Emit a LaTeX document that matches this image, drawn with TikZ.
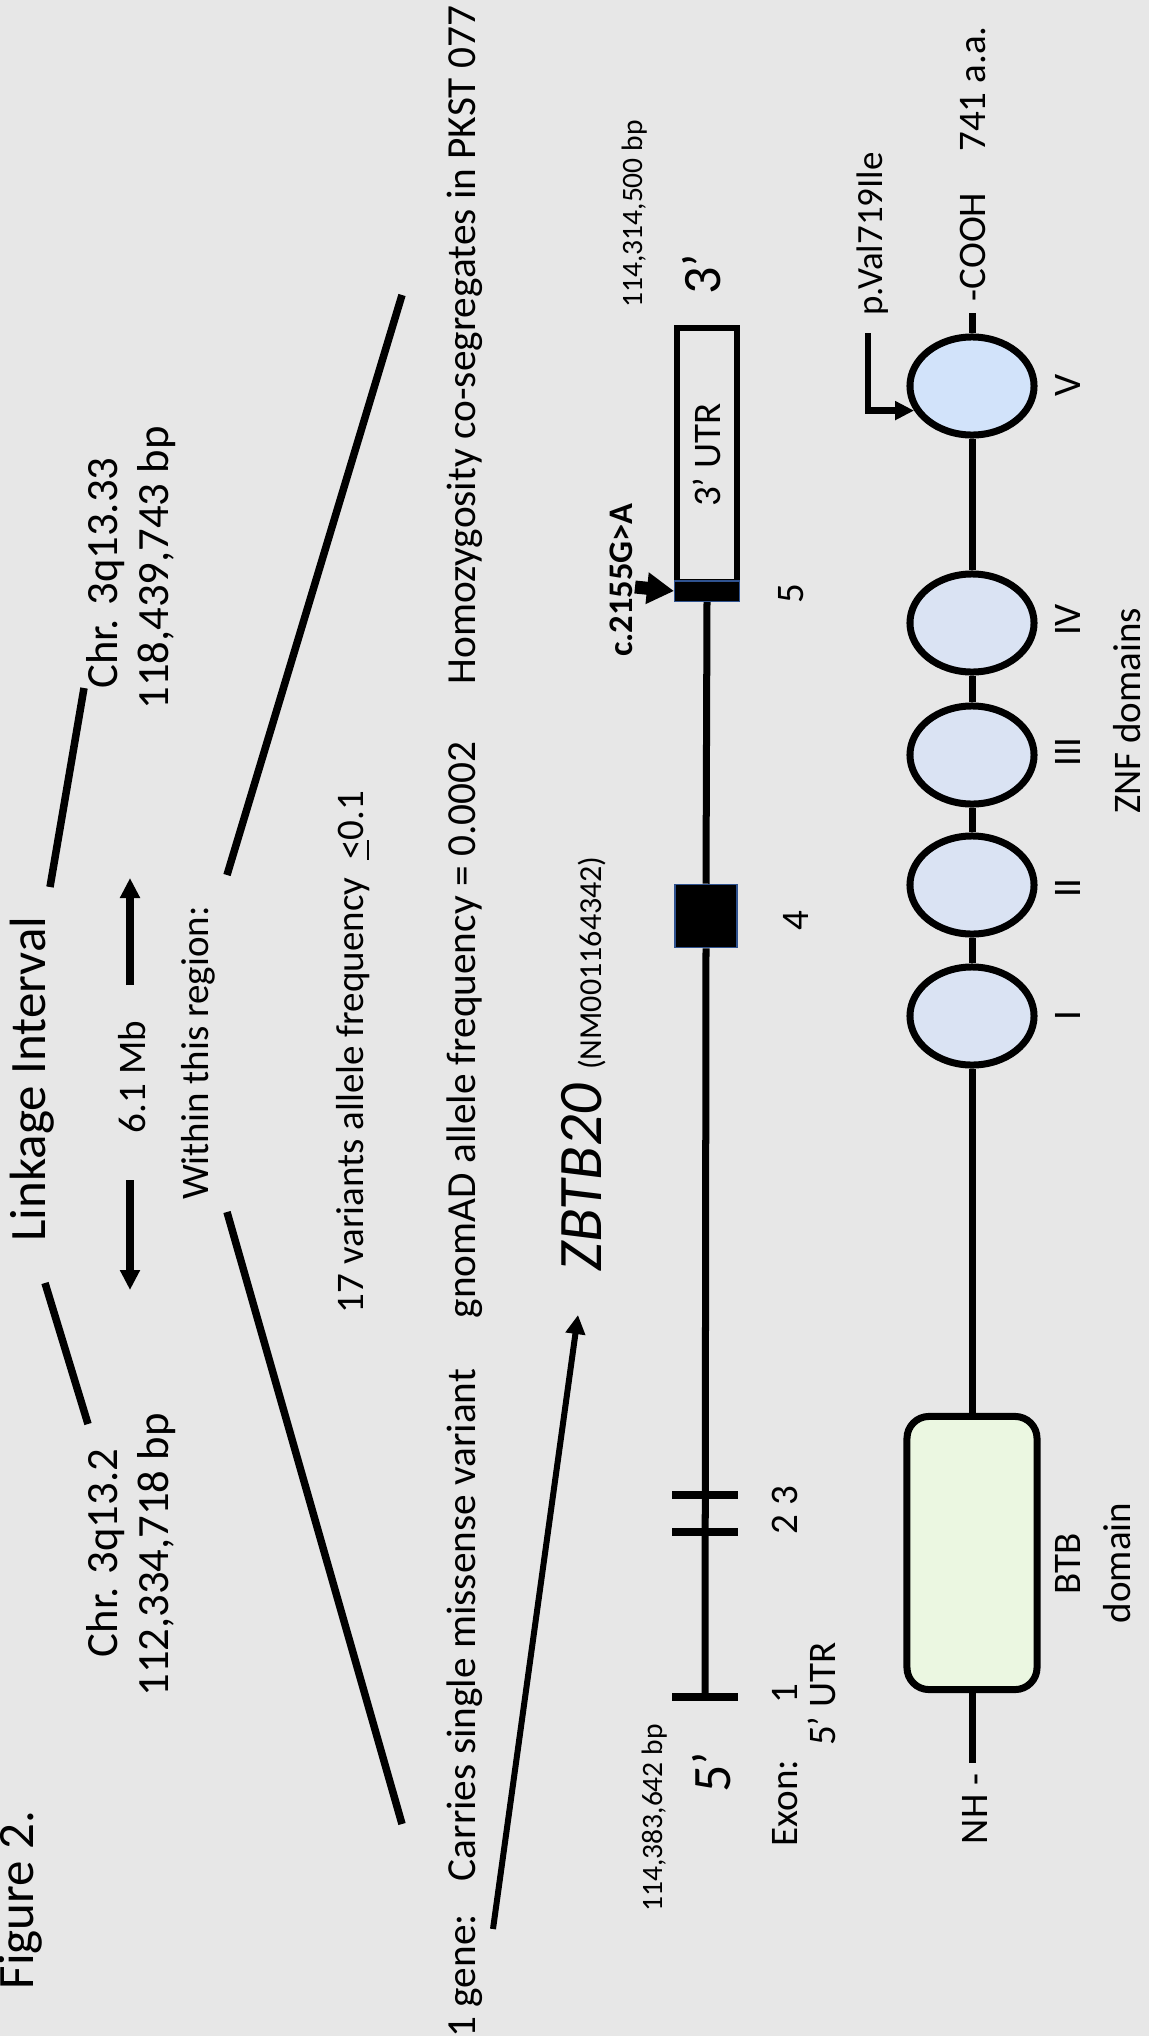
\documentclass[tikz,border=0pt]{standalone}
\usepackage{fontspec}
\setmainfont{Carlito}
\usetikzlibrary{arrows.meta, shapes.geometric}
\definecolor{bggray}{HTML}{E7E7E7}
\definecolor{znfblue}{HTML}{DAE3F3}
\definecolor{znfvblue}{HTML}{D2E3FA}
\definecolor{btbgreen}{HTML}{EBF7E1}
\definecolor{exonedge}{HTML}{2F528F}

\begin{document}
\begin{tikzpicture}[x=0.01cm, y=-0.01cm,
  every node/.style={inner sep=0pt},
  txt/.style={rotate=90, anchor=base, font=\fontsize{11.1}{13}\selectfont},
  bigtxt/.style={txt, font=\fontsize{14.5}{17}\selectfont},
  chrtxt/.style={txt, font=\fontsize{12.7}{15}\selectfont},
  rowtxt/.style={txt, font=\fontsize{11.75}{14}\selectfont},
  bptxt/.style={txt, font=\fontsize{8.4}{10}\selectfont},
  endtxt/.style={txt, font=\fontsize{15.4}{18}\selectfont},
  vline/.style={line width=0.075cm},
  gline/.style={line width=0.07cm},
  extick/.style={fill=black, minimum width=0.65cm, minimum height=0.075cm},
  exbox/.style={fill=black, draw=exonedge, line width=0.015cm},
  znf/.style={ellipse, draw, line width=0.07cm, fill=znfblue, minimum width=1.24cm, minimum height=0.98cm},
  btbbox/.style={rectangle, rounded corners=0.22cm, draw, line width=0.07cm, fill=btbgreen, minimum width=1.30cm, minimum height=2.73cm},
  mbarrow/.style={line width=0.075cm, -{Triangle[length=0.2cm, width=0.19cm]}},
  longarrow/.style={line width=0.06cm, -{Triangle[length=0.19cm, width=0.19cm]}},
  mutarrow/.style={line width=0.13cm, -{Triangle[length=0.27cm, width=0.30cm]}},
  valarrow/.style={line width=0.065cm, -{Triangle[length=0.19cm, width=0.18cm]}}]
\useasboundingbox (0,0) rectangle (1149,2036);
\fill[bggray] (0,0) rectangle (1149,2036);

% linkage interval
\node[bigtxt] (fig) at (34,1900) {Figure 2.};
\node[bigtxt] (link) at (45,1079) {Linkage Interval};
\node[chrtxt] (chrhia) at (117,573) {Chr. 3q13.33};
\node[chrtxt] (chrhib) at (168,568) {118,439,743 bp};
\node[chrtxt] (chrloa) at (117,1553) {Chr. 3q13.2};
\node[chrtxt] (chrlob) at (168,1555) {112,334,718 bp};
\node[txt] (mb) at (145,1077) {6.1 Mb};
\node[txt] (within) at (208,1053) {Within this region:};
\node[txt] (seventeen) at (363,1052) {17 variants allele frequency \ \underline{<}0.1};
\coordinate (lkup1) at (50,887);
\coordinate (lkup2) at (84,688);
\coordinate (lkdn1) at (45,1283);
\coordinate (lkdn2) at (88,1424);
\draw[vline] (lkup1) -- (lkup2);
\draw[vline] (lkdn1) -- (lkdn2);
\coordinate (mbup1) at (130,985);
\coordinate (mbup2) at (130,878);
\coordinate (mbdn1) at (130,1180);
\coordinate (mbdn2) at (130,1290);
\draw[mbarrow] (mbup1) -- (mbup2);
\draw[mbarrow] (mbdn1) -- (mbdn2);
\coordinate (rgup1) at (227,875);
\coordinate (rgup2) at (402,295);
\coordinate (rgdn1) at (227,1212);
\coordinate (rgdn2) at (402,1824);
\draw[vline] (rgup1) -- (rgup2);
\draw[vline] (rgdn1) -- (rgdn2);

% findings row
\node[rowtxt] (onegene) at (475,1976) {1 gene:};
\node[rowtxt] (carries) at (475,1625) {Carries single missense variant};
\node[rowtxt] (gnomad) at (475,1030) {gnomAD allele frequency = 0.0002};
\node[rowtxt] (homoz) at (475,345) {Homozygosity co-segregates in PKST 077};
\node[txt, font=\fontsize{17.6}{20}\selectfont] (zbtb) at (601,1064)
  {\textit{ZBTB20} {\fontsize{9.1}{11}\selectfont(NM001164342)}};
\coordinate (genestart) at (493,1929);
\coordinate (genetip) at (578,1315);
\draw[longarrow] (genestart) -- (genetip);

% gene structure
\node[bptxt] (bpthree) at (642,214) {114,314,500 bp};
\node[endtxt] (three) at (720,274) {3’};
\node[bptxt] (bpfive) at (662,1818) {114,383,642 bp};
\node[endtxt] (five) at (730,1772) {5’};
\node[rotate=90, draw, line width=0.065cm, minimum width=2.54cm, minimum height=0.6cm,
  font=\fontsize{11.1}{13}\selectfont] (utrbox) at (707,455) {3’ UTR};
\node[extick] (exa) at (705,1697) {};
\node[extick] (exb) at (705,1532) {};
\node[extick] (exc) at (705,1495) {};
\node[exbox, minimum width=0.62cm, minimum height=0.63cm] (exd) at (706,916) {};
\node[exbox, minimum width=0.645cm, minimum height=0.205cm] (exe) at (707,591) {};
\draw[gline] (exa.center) -- (exd.south);
\draw[gline] (exd.north) -- (exe.south);
\node[txt, font=\bfseries\fontsize{9.8}{12}\selectfont] (mut) at (632,580) {c.2155G>A};
\coordinate (mutstart) at (635,587);
\draw[mutarrow] (mutstart) -- (exe.west);
\node[txt] (nfive) at (803,594) {5};
\node[txt] (nfour) at (808,921) {4};
\node[txt] (ntwothree) at (797,1510) {2 3};
\node[txt] (none) at (797,1694) {1};
\node[txt] (utrfive) at (835,1694) {5’ UTR};
\node[txt] (exon) at (797,1803) {Exon:};

% protein
\node[btbbox] (btb) at (972,1553) {};
\node[znf] (zfa) at (972,1016) {};
\node[znf] (zfb) at (972,885) {};
\node[znf] (zfc) at (972,755) {};
\node[znf] (zfd) at (972,623) {};
\node[znf, fill=znfvblue] (zfe) at (972,386) {};
\coordinate (nhend) at (972,1763);
\coordinate (coohend) at (972,313);
\draw[gline] (btb.south) -- (nhend);
\draw[gline] (btb.north) -- (zfa.south);
\draw[gline] (zfa.north) -- (zfb.south);
\draw[gline] (zfb.north) -- (zfc.south);
\draw[gline] (zfc.north) -- (zfd.south);
\draw[gline] (zfd.north) -- (zfe.south);
\draw[gline] (zfe.north) -- (coohend);
\node[txt, font=\fontsize{10.5}{12}\selectfont] (val) at (882,234) {p.Val719Ile};
\coordinate (valtop) at (868,333);
\draw[valarrow] (valtop) |- (zfe.203);
\node[txt] (cooh) at (985,247) {-COOH};
\node[txt] (aa) at (985,89) {741 a.a.};
\node[txt] (nh) at (987,1809) {NH -};
\node[txt] (roma) at (1080,1016) {I};
\node[txt] (romb) at (1080,888) {II};
\node[txt] (romc) at (1080,752) {III};
\node[txt] (romd) at (1080,620) {IV};
\node[txt] (rome) at (1080,385) {V};
\node[txt] (znfl) at (1140,711) {ZNF domains};
\node[txt] (btbl) at (1080,1564) {BTB};
\node[txt] (dom) at (1130,1563) {domain};
\end{tikzpicture}
\end{document}
